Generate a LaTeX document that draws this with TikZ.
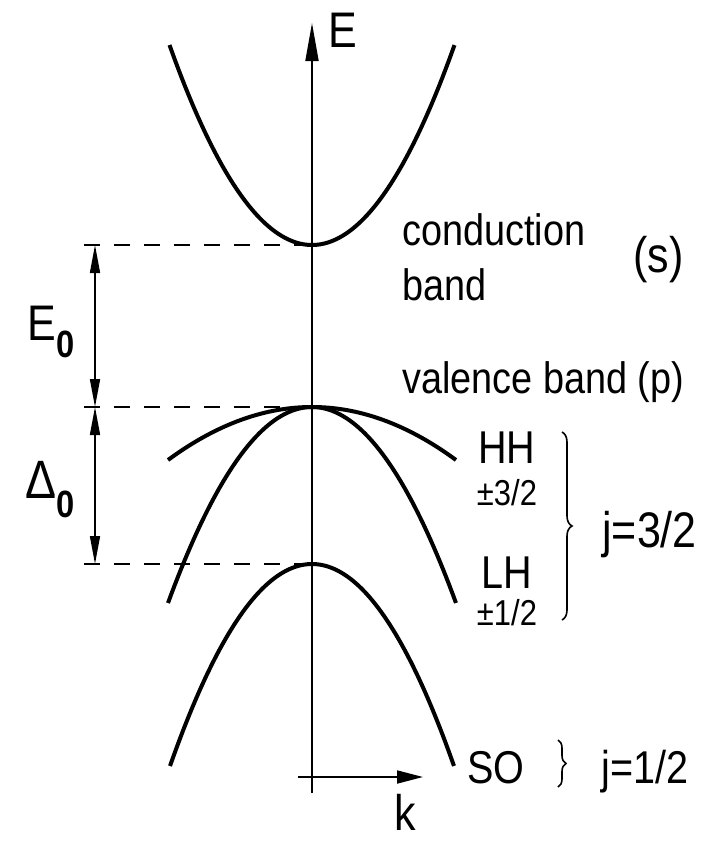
\documentclass[tikz,border=0pt]{standalone}
\usepackage{fontspec}
\setmainfont{Liberation Sans}[FakeStretch=0.86]
\usetikzlibrary{arrows.meta, decorations.pathreplacing}

\begin{document}
\begin{tikzpicture}[
        x=0.5pt, y=-0.5pt,
        bandLine/.style={
            line width=2pt
        },
        axis/.style={
            line width=0.9pt
        },
        levelLine/.style={
            line width=0.9pt,
            dash pattern=on 8.2pt off 6.8pt
        },
        gapArrow/.style={
            {Triangle[length=14pt,width=5pt]}-{Triangle[length=14pt,width=5pt]},
            line width=0.8pt
        },
        jBrace/.style={
            decorate,
            decoration={brace, amplitude=5pt},
            line width=0.8pt
        },
        lbl/.style={
            font=\fontsize{22}{26}\selectfont,
            inner sep=0pt
        },
        bandLbl/.style={
            font=\fontsize{23}{27}\selectfont,
            inner sep=0pt,
            anchor=base
        },
        spinLbl/.style={
            font=\fontsize{18}{21}\selectfont,
            inner sep=0pt,
            anchor=base
        },
        bigLbl/.style={
            font=\fontsize{25}{29}\selectfont,
            inner sep=0pt
        }
    ]

        \useasboundingbox (0,0) rectangle (708,842);

        % Axes
        \coordinate (ebottom) at (312,793);
        \coordinate (etip) at (312,23);
        \coordinate (kstart) at (298,777);
        \coordinate (ktip) at (423,777);

        \draw[axis, -{Triangle[length=19pt,width=6.5pt]}] (ebottom) -- (etip);
        \draw[axis, -{Triangle[length=13pt,width=6.5pt]}] (kstart) -- (ktip);

        \node[bigLbl, anchor=base west] (elbl) at (328,47) {E};
        \node[bigLbl, anchor=base] (klbl) at (405,830) {k};

        % Bands
        \draw[bandLine] plot[domain=-1:1, samples=80, smooth]
            ({312+142.5*\x}, {245-200*\x*\x});
        \draw[bandLine] plot[domain=-1:1, samples=80, smooth]
            ({312+144*\x}, {407+53*\x*\x});
        \draw[bandLine] plot[domain=-1:1, samples=80, smooth]
            ({312+144*\x}, {407+196*\x*\x});
        \draw[bandLine] plot[domain=-1:1, samples=80, smooth]
            ({312+142*\x}, {564+202*\x*\x});

        % Energy levels
        \coordinate (cbleft) at (84,245);
        \coordinate (cbmin) at (312,245);
        \coordinate (vbleft) at (84,407);
        \coordinate (vbtop) at (312,407);
        \coordinate (soleft) at (84,564);
        \coordinate (sotop) at (312,564);

        \draw[levelLine] (cbleft) -- (cbmin);
        \draw[levelLine] (vbleft) -- (vbtop);
        \draw[levelLine] (soleft) -- (sotop);

        % Gaps
        \coordinate (egapTop) at (95,245);
        \coordinate (egapBot) at (95,407);
        \coordinate (sogapBot) at (95,564);

        \draw[gapArrow] (egapTop) -- (egapBot);
        \draw[gapArrow] (egapBot) -- (sogapBot);

        \node[bigLbl, anchor=base west] (egap) at (27,340)
            {E\raisebox{-8.5pt}{\fontsize{19}{19}\selectfont\bfseries 0}};
        \node[bigLbl, anchor=base west] (sogap) at (25,498)
            {\fontsize{27}{29}\selectfont Δ\raisebox{-9.5pt}{\fontsize{19}{19}\selectfont\bfseries 0}};

        % Band labels
        \node[lbl, anchor=base west] (cond) at (402,245) {conduction};
        \node[lbl, anchor=base west] (condb) at (402,300) {band};
        \node[bigLbl, anchor=base east] (sorb) at (684,272) {(s)};
        \node[lbl, anchor=base west] (val) at (402,393) {valence band (p)};

        \node[bandLbl] (hh) at (507,463) {HH};
        \node[spinLbl] (hhj) at (507,505) {±3/2};
        \node[bandLbl] (lh) at (507,588) {LH};
        \node[spinLbl] (lhj) at (507,625) {±1/2};
        \node[bandLbl] (so) at (496,783) {SO};

        % Total angular momentum
        \coordinate (jtop) at (562,432);
        \coordinate (jbot) at (562,620);
        \coordinate (sjtop) at (558,740);
        \coordinate (sjbot) at (558,787);

        \draw[jBrace] (jtop) -- (jbot);
        \draw[jBrace, decoration={brace, amplitude=4pt}] (sjtop) -- (sjbot);

        \node[bigLbl, anchor=base west] (jthree) at (602,547) {j=3/2};
        \node[bandLbl, anchor=base west] (jone) at (601,783) {j=1/2};

    \end{tikzpicture}
\end{document}
